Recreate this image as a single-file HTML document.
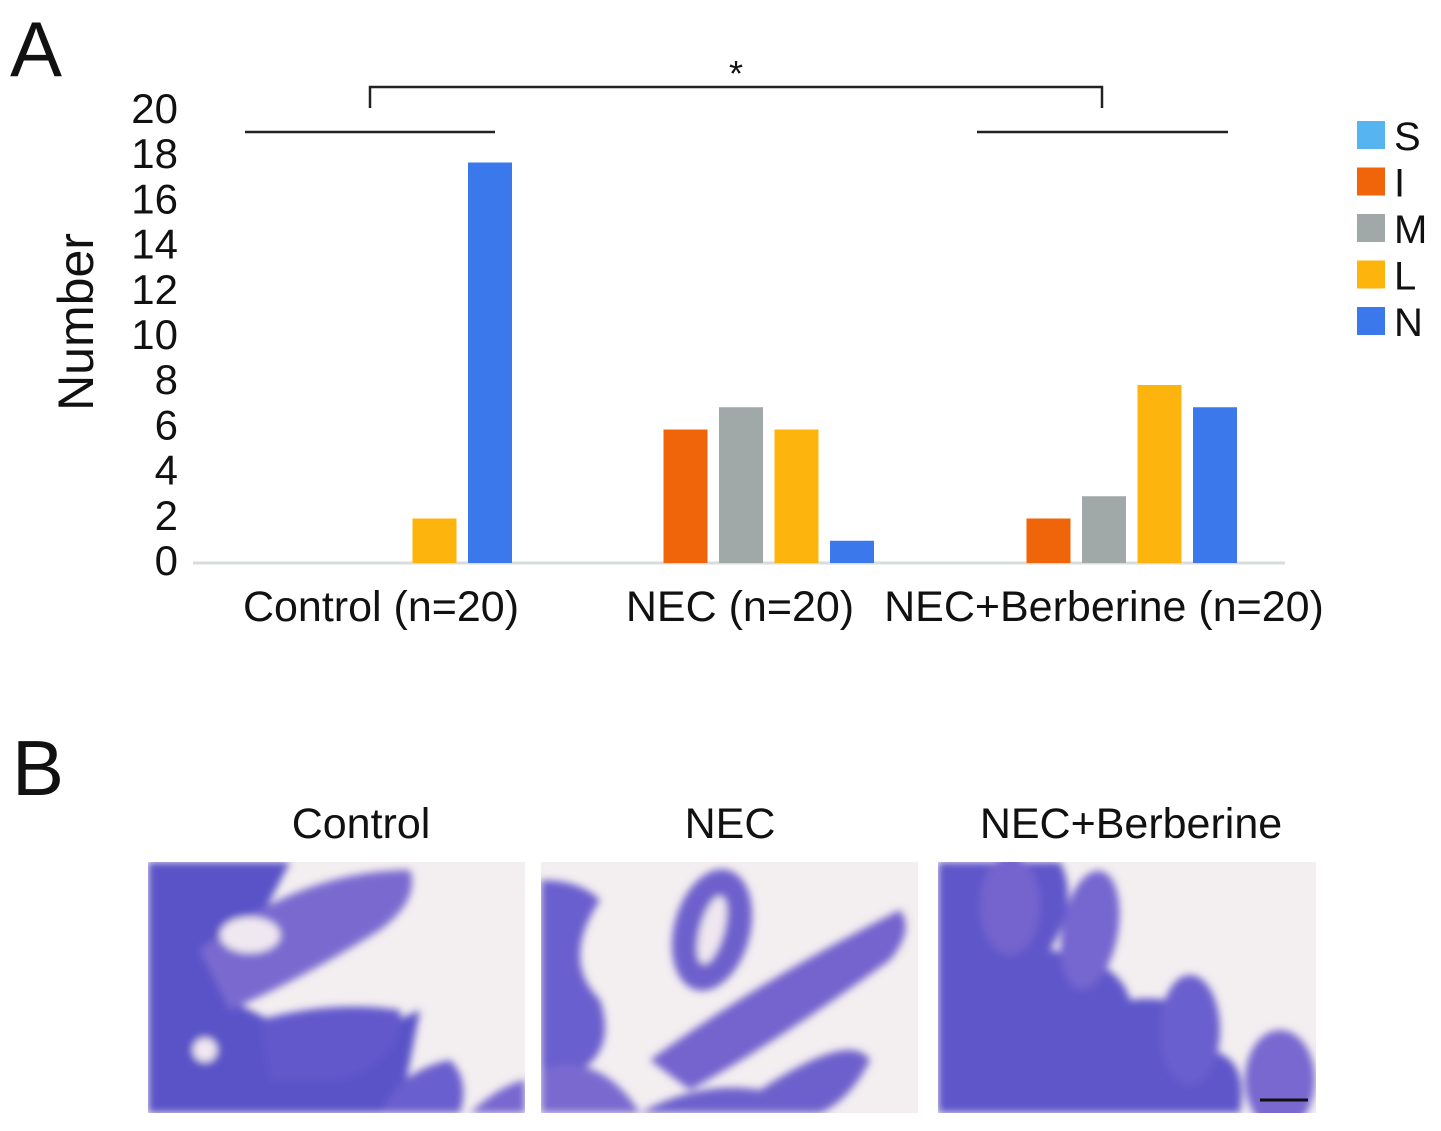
<!DOCTYPE html>
<html><head><meta charset="utf-8"><style>
html,body{margin:0;padding:0;background:#fff;}
body{width:1441px;height:1126px;overflow:hidden;font-family:"Liberation Sans",sans-serif;}
</style></head><body>
<svg id="fig" width="1441" height="1126" viewBox="0 0 1441 1126" xmlns="http://www.w3.org/2000/svg" font-family="Liberation Sans, sans-serif">
<defs>
<filter id="blur"><feGaussianBlur stdDeviation="4"/></filter>
</defs>
<text x="10" y="76" font-size="78" fill="#111">A</text>
<text transform="translate(93,322) rotate(-90)" text-anchor="middle" font-size="50" fill="#111">Number</text>
<g id="yticks"></g>
<line x1="193" y1="563" x2="1285" y2="563" stroke="#d8dcdc" stroke-width="3"/>
<g id="bars"></g>
<g id="cats"></g>
<g stroke="#222" stroke-width="2.5" fill="none">
<line x1="245" y1="132" x2="495" y2="132"/>
<line x1="977" y1="132" x2="1228" y2="132"/>
<polyline points="370,108 370,87 1102,87 1102,108"/>
</g>
<text x="736" y="86" text-anchor="middle" font-size="36" fill="#111">*</text>
<g id="legend"></g>

<text x="12" y="795" font-size="78" fill="#111">B</text>
<text x="361" y="838" text-anchor="middle" font-size="43" fill="#111">Control</text>
<text x="730" y="838" text-anchor="middle" font-size="43" fill="#111">NEC</text>
<text x="1131" y="838" text-anchor="middle" font-size="43" fill="#111">NEC+Berberine</text>

<g>
<rect x="148" y="862" width="377" height="251" fill="#f3eef0"/>
<g clip-path="url(#c1)"><clipPath id="c1"><rect x="148" y="862" width="377" height="251"/></clipPath>
<g filter="url(#blur)">
<path d="M148,862 L290,862 L260,920 L230,1000 L330,1050 L420,1010 L400,1113 L148,1113Z" fill="#5a52c8"/>
<path d="M200,950 Q300,870 410,870 Q420,900 380,930 Q300,980 230,1010Z" fill="#7a6ad0"/>
<path d="M260,1020 Q330,1000 400,1010 Q405,1060 340,1080 L270,1080Z" fill="#6258cc"/>
<path d="M380,1113 Q400,1070 450,1060 Q470,1080 460,1113Z" fill="#6a5ece"/>
<path d="M470,1113 Q500,1085 525,1080 L525,1113Z" fill="#7868d0"/>
<ellipse cx="250" cy="935" rx="30" ry="18" fill="#f0e8f0"/>
<ellipse cx="205" cy="1050" rx="12" ry="12" fill="#f0e8f0"/>
</g></g></g>

<g>
<rect x="541" y="862" width="377" height="251" fill="#f3eef0"/>
<g clip-path="url(#c2)"><clipPath id="c2"><rect x="541" y="862" width="377" height="251"/></clipPath>
<g filter="url(#blur)">
<path d="M541,880 Q580,880 600,900 Q560,960 600,1000 Q620,1060 560,1080 L541,1113Z" fill="#6a5ece"/>
<path d="M541,1070 Q600,1050 640,1113 L541,1113Z" fill="#7a6ad0"/>
<ellipse cx="712" cy="930" rx="38" ry="62" fill="#6e60cc" transform="rotate(15 712 930)"/>
<ellipse cx="712" cy="930" rx="12" ry="35" fill="#efe6f0" transform="rotate(15 712 930)"/>
<path d="M650,1060 Q760,980 900,910 Q915,930 890,960 Q780,1040 690,1090Z" fill="#7464ce"/>
<path d="M640,1113 Q700,1080 760,1090 Q850,1030 870,1060 Q850,1100 820,1113Z" fill="#6e60cc"/>
</g></g></g>

<g>
<rect x="938" y="862" width="378" height="251" fill="#f3eef0"/>
<g clip-path="url(#c3)"><clipPath id="c3"><rect x="938" y="862" width="378" height="251"/></clipPath>
<g filter="url(#blur)">
<path d="M938,862 L1060,862 Q1080,900 1050,950 Q1120,960 1130,1000 Q1200,990 1200,1050 Q1250,1050 1240,1113 L938,1113Z" fill="#5e56ca"/>
<ellipse cx="1010" cy="905" rx="30" ry="50" fill="#7464ce"/>
<ellipse cx="1090" cy="930" rx="28" ry="60" fill="#7666d0" transform="rotate(10 1090 930)"/>
<ellipse cx="1190" cy="1030" rx="30" ry="55" fill="#6a5ece"/>
<ellipse cx="1280" cy="1080" rx="35" ry="50" fill="#7868d0"/>
</g></g>
<line x1="1260" y1="1100" x2="1308" y2="1100" stroke="#111" stroke-width="3"/>
</g>
</svg>
<script>
const categories = ["Control (n=20)", "NEC (n=20)", "NEC+Berberine (n=20)"];
const seriesNames = ["S", "I", "M", "L", "N"];
const seriesColors = ["#56b4f0", "#f0640a", "#a0a8a8", "#fdb50e", "#3a78ec"];
const valuesS = [0, 0, 0];
const valuesI = [0, 6, 2];
const valuesM = [0, 7, 3];
const valuesL = [2, 6, 8];
const valuesN = [18, 1, 7];
const yTicks = [0, 2, 4, 6, 8, 10, 12, 14, 16, 18, 20];

const NS = "http://www.w3.org/2000/svg";
const y0 = 563, pxPer = 22.25;
function yScale(v){ return y0 - v * pxPer; }
function yLabelScale(v){ return 560 - v * 22.6; }
const groupStart = [246, 608, 971];
const slot = 55.5, barW = 44;
function xScale(g, s){ return groupStart[g] + s * slot; }

const yt = document.getElementById('yticks');
yTicks.forEach(t => {
  const el = document.createElementNS(NS, 'text');
  
  
  el.setAttribute('x', 178);
  el.setAttribute('y', yLabelScale(t) + 15);
  el.setAttribute('text-anchor', 'end');
  el.setAttribute('font-size', '42');
  el.setAttribute('fill', '#111');
  el.textContent = t;
  yt.appendChild(el);
});

const all = [valuesS, valuesI, valuesM, valuesL, valuesN];
const bg = document.getElementById('bars');
categories.forEach((c, g) => {
  all.forEach((arr, s) => {
    const v = arr[g];
    if (v <= 0) return;
    const r = document.createElementNS(NS, 'rect');
    
    
    r.setAttribute('x', xScale(g, s));
    r.setAttribute('y', yScale(v));
    r.setAttribute('width', barW);
    r.setAttribute('height', y0 - yScale(v));
    r.setAttribute('fill', seriesColors[s]);
    bg.appendChild(r);
  });
});

const catX = [381, 740, 1104];
const cg = document.getElementById('cats');
categories.forEach((c, g) => {
  const el = document.createElementNS(NS, 'text');
  
  
  el.setAttribute('x', catX[g]);
  el.setAttribute('y', 621);
  el.setAttribute('text-anchor', 'middle');
  el.setAttribute('font-size', '43');
  el.setAttribute('fill', '#111');
  el.textContent = c;
  cg.appendChild(el);
});

const lg = document.getElementById('legend');
seriesNames.forEach((n, i) => {
  const r = document.createElementNS(NS, 'rect');
  
  
  r.setAttribute('x', 1357);
  r.setAttribute('y', 121 + i * 46.5);
  r.setAttribute('width', 28);
  r.setAttribute('height', 28);
  r.setAttribute('fill', seriesColors[i]);
  lg.appendChild(r);
  const t = document.createElementNS(NS, 'text');
  
  
  t.setAttribute('x', 1394);
  t.setAttribute('y', 150 + i * 46.5);
  t.setAttribute('font-size', '40');
  t.setAttribute('fill', '#111');
  t.textContent = n;
  lg.appendChild(t);
});
</script>
</body></html>
